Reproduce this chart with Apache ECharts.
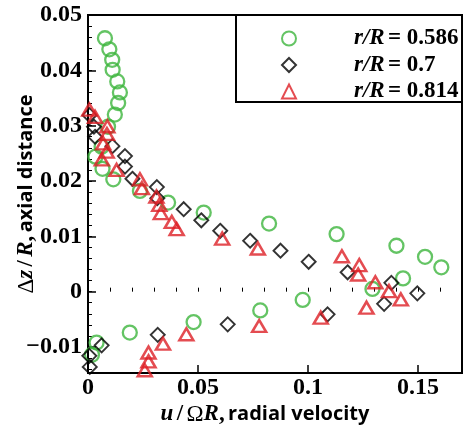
<!DOCTYPE html>
<html>
<head>
<meta charset="utf-8">
<script src="https://cdn.jsdelivr.net/npm/echarts@6/dist/echarts.min.js"></script>
<style>
  html, body { margin: 0; padding: 0; background: #fff; }
  #chart { width: 470px; height: 427px; }
</style>
</head>
<body>
<div id="chart"></div>
<script>
// Wake profile at three radial stations: radial velocity vs axial distance
const seriesNames = ['r/R = 0.586', 'r/R = 0.7', 'r/R = 0.814'];

// r/R = 0.586  [u/ΩR, Δz/R]
const stationA = [
  [0.0077, 0.0458], [0.0097, 0.0438], [0.0110, 0.0419], [0.0112, 0.0401],
  [0.0133, 0.0380], [0.0145, 0.0360], [0.0137, 0.0341], [0.0122, 0.0320],
  [0.0091, 0.0298], [0.0062, 0.0262], [0.0034, 0.0244], [0.0066, 0.0222],
  [0.0115, 0.0203], [0.0236, 0.0182], [0.0364, 0.0161], [0.0526, 0.0143],
  [0.0823, 0.0123], [0.1130, 0.0104], [0.1402, 0.0083], [0.1532, 0.0063],
  [0.1606, 0.0044], [0.1432, 0.0024], [0.1293, 0.0005], [0.0976, -0.0015],
  [0.0783, -0.0034], [0.0480, -0.0055], [0.0190, -0.0074], [0.0039, -0.0092],
  [0.0018, -0.0114]
];

// r/R = 0.7
const stationB = [
  [0.0007, 0.0319], [0.0027, 0.0298], [0.0032, 0.0280], [0.0111, 0.0263],
  [0.0168, 0.0245], [0.0168, 0.0226], [0.0202, 0.0204], [0.0313, 0.0189],
  [0.0315, 0.0169], [0.0435, 0.0149], [0.0515, 0.0129], [0.0601, 0.0110],
  [0.0737, 0.0092], [0.0875, 0.0074], [0.1003, 0.0054], [0.1180, 0.0035],
  [0.1379, 0.0016], [0.1497, -0.0003], [0.1346, -0.0022], [0.1089, -0.0041],
  [0.0635, -0.0059], [0.0317, -0.0078], [0.0062, -0.0097], [0.0006, -0.0116],
  [0.0008, -0.0136]
];

// r/R = 0.814
const stationC = [
  [0.0006, 0.0329], [0.0032, 0.0316], [0.0088, 0.0299], [0.0086, 0.0285],
  [0.0069, 0.0268], [0.0085, 0.0253], [0.0063, 0.0239], [0.0130, 0.0220],
  [0.0236, 0.0203], [0.0245, 0.0187], [0.0311, 0.0172], [0.0324, 0.0157],
  [0.0331, 0.0142], [0.0381, 0.0126], [0.0403, 0.0113], [0.0610, 0.0096],
  [0.0772, 0.0078], [0.1154, 0.0064], [0.1233, 0.0048], [0.1228, 0.0031],
  [0.1306, 0.0017], [0.1368, 0.0001], [0.1422, -0.0014], [0.1266, -0.0029],
  [0.1058, -0.0047], [0.0778, -0.0062], [0.0447, -0.0077], [0.0341, -0.0094],
  [0.0275, -0.0110], [0.0275, -0.0126], [0.0258, -0.0142]
];

// Axis ranges and tick labels
const xRange = [0, 0.17];
const yRange = [-0.0147, 0.05];
const xTicks = [0, 0.05, 0.1, 0.15];
const yTicks = [-0.01, 0, 0.01, 0.02, 0.03, 0.04, 0.05];
const xMinorStep = 0.01;
const yMinorStep = 0.002;

function stepsBetween(lo, hi, step) {
  const out = [];
  const start = Math.ceil(lo / step - 1e-9);
  const end = Math.floor(hi / step + 1e-9);
  for (let i = start; i <= end; i++) out.push(+(i * step).toFixed(6));
  return out;
}
const xMinor = stepsBetween(xRange[0], xRange[1], xMinorStep);
const yMinor = stepsBetween(yRange[0], yRange[1], yMinorStep);

function tickText(v) {
  if (Math.abs(v) < 1e-9) return '0';
  const s = String(+Math.abs(v).toFixed(4));
  return (v < 0 ? '\u2212' : '') + s;
}

const SERIF = '"Liberation Serif", "Times New Roman", serif';
const SANS = '"Open Sans", "Noto Sans", sans-serif';
const GREEN = '#3db53d';
const RED = '#dd1f26';
const BLACK = '#000000';

const labelStyle = {
  fontFamily: SERIF, fontWeight: 'bold', fontSize: 24, color: '#000'
};

const titleRich = {
  it: { fontFamily: SERIF, fontStyle: 'italic', fontWeight: 'bold', fontSize: 23, color: '#000' },
  b: { fontFamily: SERIF, fontWeight: 'bold', fontSize: 23, color: '#000' },
  g: { fontFamily: SERIF, fontSize: 23, color: '#000' },
  s: { fontFamily: SANS, fontWeight: 'bold', fontSize: 20, color: '#000' }
};

const chart = echarts.init(document.getElementById('chart'), null, { renderer: 'canvas' });

chart.setOption({
  animation: false,
  backgroundColor: '#fff',
  grid: {
    left: 88, right: 8, top: 15, bottom: 54,
    show: true, borderColor: '#000', borderWidth: 2,
    containLabel: false, outerBoundsMode: 'none'
  },
  legend: {
    orient: 'vertical',
    left: 281, top: 27,
    padding: 0,
    itemWidth: 14, itemHeight: 14,
    itemGap: 3.5,
    selectedMode: false,
    data: seriesNames,
    formatter: function (name) {
      const parts = name.split(' = ');
      return '{i|r/R} {n|= ' + parts[1] + '}';
    },
    textStyle: {
      padding: [0, 0, 0, 53],
      lineHeight: 22,
      rich: {
        i: { fontFamily: SERIF, fontStyle: 'italic', fontWeight: 'bold', fontSize: 23, color: '#000', lineHeight: 22 },
        n: { fontFamily: SERIF, fontWeight: 'bold', fontSize: 23, color: '#000', lineHeight: 22 }
      }
    }
  },
  graphic: [{
    type: 'rect',
    shape: { x: 236, y: 15, width: 226, height: 87 },
    style: { fill: 'none', stroke: '#000', lineWidth: 2 },
    z: 100
  }],
  xAxis: [{
    type: 'value', min: xRange[0], max: xRange[1], position: 'bottom',
    axisLine: { show: true, onZero: false, lineStyle: { color: '#000', width: 2 } },
    axisTick: { show: true, inside: true, length: 8, customValues: xTicks, lineStyle: { color: '#000', width: 1.5 } },
    axisLabel: Object.assign({ customValues: xTicks, margin: 3, formatter: tickText }, labelStyle),
    splitLine: { show: false },
    name: '{it|u} {b|/} {g|\u03A9}{it|R}{b|,} {s|radial velocity}',
    nameLocation: 'middle', nameGap: 30, nameMoveOverlap: false,
    nameTextStyle: { padding: [0, 20, 0, 0], rich: titleRich }
  }, {
    type: 'value', min: xRange[0], max: xRange[1], position: 'bottom',
    axisLine: { show: false },
    axisTick: { show: true, inside: true, length: 4, customValues: xMinor, lineStyle: { color: '#000', width: 1 } },
    axisLabel: { show: false },
    splitLine: { show: false }
  }],
  yAxis: [{
    type: 'value', min: yRange[0], max: yRange[1], position: 'left',
    axisLine: { show: true, onZero: false, lineStyle: { color: '#000', width: 2 } },
    axisTick: { show: true, inside: true, length: 8, customValues: yTicks, lineStyle: { color: '#000', width: 1.5 } },
    axisLabel: Object.assign({ customValues: yTicks, margin: 6, formatter: tickText }, labelStyle),
    splitLine: { show: false },
    name: '{g|\u0394}{it|z} {b|/} {it|R}{b|,} {s|axial distance}',
    nameLocation: 'middle', nameGap: 50, nameRotate: 90, nameMoveOverlap: false,
    nameTextStyle: { rich: titleRich }
  }, {
    type: 'value', min: yRange[0], max: yRange[1], position: 'left',
    axisLine: { show: false },
    axisTick: { show: true, inside: true, length: 4, customValues: yMinor, lineStyle: { color: '#000', width: 1 } },
    axisLabel: { show: false },
    splitLine: { show: false }
  }],
  series: [{
    name: seriesNames[0], type: 'scatter', data: stationA,
    symbol: 'circle', symbolSize: 14,
    itemStyle: { color: 'rgba(255,255,255,0)', borderColor: GREEN, borderWidth: 2.3 }
  }, {
    name: seriesNames[1], type: 'scatter', data: stationB,
    symbol: 'diamond', symbolSize: [14, 14],
    itemStyle: { color: 'rgba(255,255,255,0)', borderColor: BLACK, borderWidth: 1.9 }
  }, {
    name: seriesNames[2], type: 'scatter', data: stationC,
    symbol: 'triangle', symbolSize: [14, 12],
    itemStyle: { color: 'rgba(255,255,255,0)', borderColor: RED, borderWidth: 2.5 }
  }]
});
</script>
</body>
</html>
